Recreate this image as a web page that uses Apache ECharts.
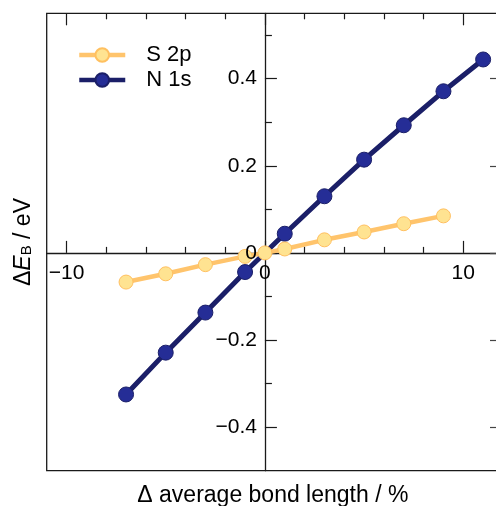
<!DOCTYPE html>
<html><head><meta charset="utf-8">
<script src="https://cdn.jsdelivr.net/npm/echarts@6/dist/echarts.min.js"></script>
<style>html,body{margin:0;padding:0;background:#fff;overflow:hidden;width:496px;height:506px}#c{width:500px;height:506px}</style>
</head><body><div id="c"></div>
<script>
// ---- data ----
const s2pX = [-7, -5, -3, -1, 0, 1, 3, 5, 7, 9];
const s2pY = [-0.067, -0.048, -0.027, -0.008, 0, 0.009, 0.030, 0.048, 0.067, 0.085];
const n1sX = [-7, -5, -3, -1, 1, 3, 5, 7, 9, 11];
const n1sY = [-0.325, -0.229, -0.137, -0.044, 0.044, 0.130, 0.214, 0.293, 0.371, 0.444];
const xMajorTicks = [-10, 0, 10];
const xMinorTicks = [-8, -6, -4, -2, 2, 4, 6, 8];
const yMajorTicks = [-0.4, -0.2, 0, 0.2, 0.4];
const yMinorTicks = [-0.3, -0.1, 0.1, 0.3, 0.5];
const seriesNames = ['S 2p', 'N 1s'];
const xTitle = 'Δ average bond length / %';

const FONT = 'Liberation Sans, Arial, Helvetica, sans-serif';
const AX = '#1a1a1a';
const XMIN = -11, XMAX = 11.8, YMIN = -0.5, YMAX = 0.55;
const G = { left: 46.7, right: 1, top: 13.3, bottom: 35.3 };
const fmt = v => String(v).replace('-', '\u2212');
const noLabel = { show: false };

const chart = echarts.init(document.getElementById('c'), null, { renderer: 'canvas', width: 500, height: 506 });

const baseX = { type: 'value', min: XMIN, max: XMAX, splitLine: { show: false } };
const baseY = { type: 'value', min: YMIN, max: YMAX, splitLine: { show: false } };

chart.setOption({
  animation: false,
  backgroundColor: '#fff',
  grid: Object.assign({ show: true, borderColor: AX, borderWidth: 1.3, backgroundColor: 'transparent',
    containLabel: false, outerBoundsMode: 'none' }, G),
  legend: {
    data: seriesNames, left: 72, top: 39, orient: 'vertical',
    itemWidth: 46, itemHeight: 17, itemGap: 3,
    lineStyle: { width: 4.5 },
    textStyle: { fontFamily: FONT, fontSize: 22, color: '#000', padding: [0, 0, 0, 16] }
  },
  xAxis: [
    Object.assign({}, baseX, { position: 'bottom', offset: 0, z: 0,
      axisLine: { show: true, onZero: false, lineStyle: { color: AX, width: 1.3 } },
      axisTick: { show: true, inside: true, length: 12, customValues: xMajorTicks, lineStyle: { color: AX, width: 1.2 } },
      axisLabel: noLabel }),
    Object.assign({}, baseX, { position: 'bottom', offset: 0, z: 10,
      axisLine: { show: false, onZero: false },
      axisTick: { show: true, inside: true, length: 6, customValues: xMinorTicks, lineStyle: { color: AX, width: 1.2 } },
      axisLabel: { show: true, customValues: xMajorTicks, formatter: fmt, margin: 10, fontFamily: FONT, fontSize: 21, color: '#000' } }),
    Object.assign({}, baseX, { position: 'top',
      axisLine: { show: false, onZero: false },
      axisTick: { show: true, inside: true, length: 12, customValues: xMajorTicks, lineStyle: { color: AX, width: 1.2 } },
      axisLabel: noLabel }),
    Object.assign({}, baseX, { position: 'top',
      axisLine: { show: false, onZero: false },
      axisTick: { show: true, inside: true, length: 6, customValues: xMinorTicks, lineStyle: { color: AX, width: 1.2 } },
      axisLabel: noLabel }),
    Object.assign({}, baseX, { position: 'bottom',
      axisLine: { show: false, onZero: false }, axisTick: { show: false }, axisLabel: noLabel,
      name: xTitle, nameLocation: 'middle', nameGap: 13, nameMoveOverlap: false,
      nameTextStyle: { fontFamily: FONT, fontSize: 23, color: '#000' } })
  ],
  yAxis: [
    Object.assign({}, baseY, { position: 'left', offset: 0, z: 0,
      axisLine: { show: true, onZero: false, lineStyle: { color: AX, width: 1.3 } },
      axisTick: { show: true, inside: true, length: 12, customValues: yMajorTicks, lineStyle: { color: AX, width: 1.2 } },
      axisLabel: noLabel }),
    Object.assign({}, baseY, { position: 'left', offset: 0, z: 10,
      axisLine: { show: false, onZero: false },
      axisTick: { show: true, inside: true, length: 7, customValues: yMinorTicks, lineStyle: { color: AX, width: 1.2 } },
      axisLabel: { show: true, customValues: yMajorTicks, formatter: fmt, margin: 8, fontFamily: FONT, fontSize: 21, color: '#000' } }),
    Object.assign({}, baseY, { position: 'right',
      axisLine: { show: false, onZero: false },
      axisTick: { show: true, inside: true, length: 9, customValues: yMajorTicks, lineStyle: { color: '#444', width: 1.2 } },
      axisLabel: noLabel }),
    Object.assign({}, baseY, { position: 'left',
      axisLine: { show: false, onZero: false }, axisTick: { show: false }, axisLabel: noLabel,
      name: '{n|Δ}{i|E}{s|B}{n| / eV}', nameLocation: 'middle', nameGap: 12, nameMoveOverlap: false,
      nameTextStyle: { fontFamily: FONT, fontSize: 23, color: '#000',
        rich: {
          n: { fontFamily: FONT, fontSize: 23, color: '#000' },
          i: { fontFamily: FONT, fontSize: 23, color: '#000', fontStyle: 'italic' },
          s: { fontFamily: FONT, fontSize: 15, color: '#000', verticalAlign: 'bottom', padding: [8, 0, 0, 0] }
        } } })
  ],
  series: [
    {
      name: seriesNames[1], type: 'line', xAxisIndex: 0, yAxisIndex: 0, z: 2,
      data: n1sX.map((x, i) => [x, n1sY[i]]),
      symbol: 'circle', symbolSize: 15, showSymbol: true,
      lineStyle: { color: '#1b1f68', width: 5 },
      itemStyle: { color: '#252d96', borderColor: '#1b1f68', borderWidth: 1 }
    },
    {
      name: seriesNames[0], type: 'line', xAxisIndex: 0, yAxisIndex: 0, z: 3,
      data: s2pX.map((x, i) => [x, s2pY[i]]),
      symbol: 'circle', symbolSize: 14, showSymbol: true,
      lineStyle: { color: '#ffc46c', width: 4.5 },
      itemStyle: { color: '#ffe391', borderColor: '#ffc060', borderWidth: 1 }
    }
  ]
});

// move the main axes so that they cross at the data origin (0, 0)
function placeAxes() {
  const origin = chart.convertToPixel({ xAxisIndex: 0, yAxisIndex: 0 }, [0, 0]);
  const gridRect = chart.getModel().getComponent('grid', 0).coordinateSystem.getRect();
  const yOff = -(origin[0] - gridRect.x);
  const xOff = -(gridRect.y + gridRect.height - origin[1]);
  chart.setOption({
    xAxis: [{ offset: xOff }, { offset: xOff }, {}, {}, {}],
    yAxis: [{ offset: yOff }, { offset: yOff }, {}, {}]
  });
}
placeAxes();
placeAxes();
</script></body></html>
